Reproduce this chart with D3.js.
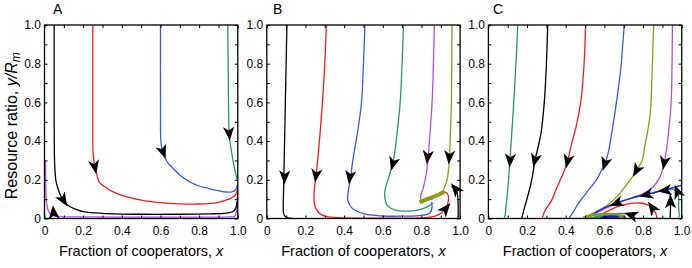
<!DOCTYPE html>
<html>
<head>
<meta charset="utf-8">
<script src="https://cdn.jsdelivr.net/npm/d3@7"></script>
<style>
  body { margin: 0; background: #fff; }
  svg { display: block; }
  text { font-family: Arial, "Liberation Sans", Helvetica, sans-serif; fill: #000; }
</style>
</head>
<body>
<div id="chart"></div>
<script>
// ---- data: trajectories as [x, y/Rm] in flow order ----
const tickValues = [0, 0.2, 0.4, 0.6, 0.8, 1.0];
const tickLabels = ['0', '0.2', '0.4', '0.6', '0.8', '1.0'];

// Panel A
const aBlack = [[0.05,1.0],[0.05,0.6],[0.051,0.35],[0.054,0.25],[0.06,0.19],[0.071,0.15],[0.085,0.115],[0.1,0.09],[0.13,0.062],[0.17,0.045],[0.2,0.036],[0.3,0.027],[0.5,0.022],[0.7,0.022],[0.85,0.024],[0.94,0.028],[0.975,0.036],[0.99,0.055],[0.997,0.09]];
const aRed = [[0.25,1.0],[0.25,0.6],[0.251,0.35],[0.255,0.3],[0.265,0.25],[0.275,0.21],[0.285,0.185],[0.31,0.165],[0.35,0.14],[0.4,0.12],[0.5,0.095],[0.6,0.082],[0.7,0.076],[0.8,0.075],[0.88,0.08],[0.93,0.092],[0.97,0.108],[0.99,0.125],[0.998,0.15]];
const aBlue = [[0.6,1.0],[0.6,0.6],[0.601,0.42],[0.604,0.38],[0.612,0.345],[0.625,0.31],[0.64,0.285],[0.66,0.265],[0.7,0.225],[0.75,0.19],[0.8,0.168],[0.85,0.155],[0.9,0.144],[0.94,0.137],[0.97,0.138],[0.99,0.15],[0.998,0.175]];
const aGreen = [[0.948,1.0],[0.95,0.8],[0.952,0.6],[0.955,0.45],[0.96,0.39],[0.967,0.35],[0.975,0.3],[0.983,0.26],[0.992,0.22],[0.998,0.19]];
const aPurple = [[0.005,0.3],[0.006,0.2],[0.008,0.12],[0.012,0.07],[0.02,0.04],[0.03,0.025],[0.05,0.014],[0.08,0.01],[0.2,0.008],[0.5,0.007],[0.8,0.007],[0.95,0.008],[0.985,0.012],[0.995,0.05],[0.998,0.12],[0.999,0.17]];

// Panel B
const bBlack = [[0.104,1.0],[0.1,0.8],[0.096,0.6],[0.092,0.4],[0.089,0.25],[0.087,0.15],[0.085,0.06],[0.087,0.025],[0.095,0.01],[0.11,0.003],[0.13,0.0]];
const bRed = [[0.308,1.0],[0.3,0.8],[0.288,0.6],[0.272,0.4],[0.258,0.25],[0.248,0.17],[0.244,0.12],[0.246,0.08],[0.255,0.05],[0.275,0.025],[0.31,0.01],[0.37,0.004],[0.5,0.002],[0.7,0.002],[0.82,0.004],[0.87,0.012],[0.905,0.03],[0.93,0.06],[0.94,0.1],[0.935,0.128],[0.92,0.138],[0.9,0.135]];
const bBlue = [[0.508,1.0],[0.5,0.8],[0.49,0.6],[0.47,0.45],[0.445,0.3],[0.432,0.2],[0.42,0.13],[0.42,0.09],[0.44,0.055],[0.5,0.025],[0.6,0.013],[0.7,0.012],[0.8,0.016],[0.845,0.03],[0.855,0.06],[0.85,0.085]];
const bGreen = [[0.707,1.0],[0.7,0.8],[0.69,0.6],[0.675,0.45],[0.655,0.3],[0.63,0.21],[0.612,0.15],[0.612,0.1],[0.625,0.065],[0.66,0.045],[0.72,0.038],[0.78,0.043],[0.83,0.06],[0.86,0.08]];
const bPurple = [[0.867,1.0],[0.862,0.8],[0.855,0.6],[0.845,0.45],[0.835,0.32],[0.825,0.23],[0.81,0.16],[0.795,0.11],[0.8,0.095],[0.83,0.098],[0.86,0.1]];
const bOlive = [[0.958,1.0],[0.957,0.8],[0.955,0.6],[0.95,0.45],[0.945,0.32],[0.94,0.25],[0.93,0.19],[0.915,0.15]];
const bOliveBand = [[0.79,0.083],[0.83,0.1],[0.87,0.115],[0.92,0.14]];
const bBlackEdge = [[0.99,0.0],[0.99,0.06],[0.988,0.11],[0.982,0.145],[0.97,0.16],[0.955,0.165]];

// Panel C
const cTeal = [[0.152,1.0],[0.145,0.85],[0.137,0.7],[0.128,0.55],[0.118,0.4],[0.11,0.28],[0.1,0.15],[0.092,0.07],[0.087,0.02],[0.085,0.0],[0.3,0.0],[0.6,0.0],[0.9,0.0],[0.983,0.0],[0.984,0.06],[0.983,0.12],[0.975,0.14],[0.955,0.15],[0.93,0.148]];
const cBlack = [[0.307,1.0],[0.3,0.8],[0.29,0.612],[0.272,0.44],[0.255,0.36],[0.241,0.3],[0.228,0.22],[0.216,0.164],[0.198,0.095],[0.185,0.05],[0.176,0.015],[0.172,0.0]];
const cRed = [[0.503,1.0],[0.495,0.8],[0.479,0.612],[0.455,0.48],[0.431,0.388],[0.41,0.298],[0.39,0.24],[0.371,0.198],[0.35,0.15],[0.328,0.095],[0.305,0.06],[0.29,0.035],[0.282,0.012],[0.279,0.0]];
const cBlue = [[0.703,1.0],[0.695,0.9],[0.686,0.784],[0.664,0.612],[0.638,0.44],[0.62,0.34],[0.603,0.284],[0.585,0.25],[0.569,0.216],[0.545,0.18],[0.517,0.147],[0.49,0.11],[0.466,0.078],[0.44,0.035],[0.422,0.009],[0.418,0.0]];
const cOlive = [[0.855,1.0],[0.85,0.85],[0.845,0.7],[0.838,0.55],[0.822,0.44],[0.81,0.38],[0.795,0.3],[0.767,0.25],[0.733,0.198],[0.7,0.155],[0.664,0.112],[0.63,0.08],[0.595,0.055],[0.56,0.035],[0.526,0.02],[0.5,0.008],[0.49,0.002]];
const cPurple = [[0.952,1.0],[0.95,0.8],[0.946,0.612],[0.935,0.474],[0.922,0.36],[0.91,0.29],[0.888,0.215],[0.853,0.164],[0.801,0.129],[0.733,0.103],[0.664,0.078],[0.6,0.05],[0.55,0.025],[0.52,0.01]];
const cSeparatrix = [[1.0,0.172],[0.9,0.145],[0.836,0.129],[0.75,0.108],[0.681,0.086],[0.62,0.063],[0.57,0.04],[0.54,0.022],[0.52,0.01]];
const cRed2 = [[0.871,0.0],[0.868,0.02],[0.862,0.034],[0.845,0.058],[0.82,0.072],[0.78,0.08],[0.74,0.078],[0.7,0.07],[0.664,0.06],[0.63,0.045],[0.6,0.03],[0.58,0.018]];
const cBlack2 = [[0.94,0.0],[0.942,0.05],[0.942,0.1],[0.936,0.135],[0.915,0.145],[0.88,0.14],[0.85,0.13]];
const cBlue2 = [[0.76,0.0],[0.75,0.012],[0.72,0.022],[0.68,0.026],[0.63,0.024],[0.58,0.018],[0.55,0.01]];
const cOliveLoop = [[0.49,0.002],[0.52,0.012],[0.56,0.02],[0.62,0.022],[0.67,0.018],[0.7,0.01],[0.705,0.003],[0.68,0.0],[0.6,0.0],[0.52,0.0]];
const cTealLoop = [[0.54,0.003],[0.58,0.012],[0.63,0.014],[0.67,0.01],[0.68,0.004],[0.63,0.001],[0.56,0.001],[0.54,0.003]];
const cCore = [[0.58,0.002],[0.6,0.01],[0.64,0.012],[0.67,0.008],[0.67,0.002],[0.62,0.0]];

const colors = {
  black: '#000000', red: '#ff1a1a', blue: '#3a58f0', teal: '#1f9a70',
  purple: '#b44cf0', olive: '#8c9c14', navy: '#2233cc', core: '#1a1aa8'
};

// arrows: [trajectory, x, y, optional angle in degrees]
const panels = [
  {
    label: 'A', left: 44.5, labelX: 53,
    series: [
      { d: aPurple, c: 'purple' }, { d: aBlack, c: 'black' }, { d: aRed, c: 'red' },
      { d: aBlue, c: 'blue' }, { d: aGreen, c: 'teal' }
    ],
    arrows: [[aBlack, 0.097, 0.096], [aRed, 0.26, 0.268], [aBlue, 0.613, 0.345],
             [aGreen, 0.955, 0.44], [aPurple, 0.047, 0.03, -95]]
  },
  {
    label: 'B', left: 266.8, labelX: 273,
    series: [
      { d: bBlack, c: 'black' }, { d: bRed, c: 'red' }, { d: bBlue, c: 'blue' },
      { d: bGreen, c: 'teal' }, { d: bPurple, c: 'purple' }, { d: bOlive, c: 'olive' },
      { d: bOliveBand, c: 'olive', w: 4 }, { d: bBlackEdge, c: 'black' }
    ],
    arrows: [[bBlack, 0.092, 0.215], [bRed, 0.255, 0.224], [bBlue, 0.43, 0.215],
             [bGreen, 0.653, 0.284], [bPurple, 0.832, 0.319], [bOlive, 0.944, 0.319],
             [bRed, 0.925, 0.05], [bBlackEdge, 0.977, 0.152]]
  },
  {
    label: 'C', left: 488.4, labelX: 493,
    series: [
      { d: cTeal, c: 'teal' }, { d: cBlack, c: 'black' }, { d: cRed, c: 'red' },
      { d: cBlue, c: 'blue' }, { d: cOlive, c: 'olive' }, { d: cPurple, c: 'purple' },
      { d: cRed2, c: 'red' }, { d: cBlue2, c: 'blue' }, { d: cBlack2, c: 'black' },
      { d: cSeparatrix, c: 'navy', w: 1.6 }, { d: cOliveLoop, c: 'olive', w: 3 },
      { d: cTealLoop, c: 'teal', w: 1.5 }, { d: cCore, c: 'core', fill: true }
    ],
    arrows: [[cTeal, 0.112, 0.302], [cBlack, 0.241, 0.302], [cRed, 0.41, 0.298],
             [cBlue, 0.603, 0.284], [cOlive, 0.767, 0.25], [cPurple, 0.91, 0.29],
             [cSeparatrix, 0.819, 0.123], [cSeparatrix, 0.664, 0.08],
             [cBlack2, 0.942, 0.086], [cBlack2, 0.914, 0.145], [cTeal, 0.978, 0.138],
             [cRed2, 0.848, 0.055], [cBlue2, 0.74, 0.018]]
  }
];

// ---- layout ----
const width = 692, height = 268;
const plotW = 193.3, plotTop = 25, plotBottom = 218.5;
const fontTick = 12, fontTitle = 14.5;

const svg = d3.select('#chart').append('svg')
  .attr('width', width).attr('height', height);

const arrowPath = 'M7.5,0 L-6.5,-5.6 L-2.8,0 L-6.5,5.6 Z';
const minor = d3.range(11).map(i => i / 10);

// angle of trajectory near (px, py), in screen space
const tangentAngle = (pts, px, py) => {
  let best = Infinity, ang = 90;
  for (let i = 0; i < pts.length - 1; i++) {
    const [x1, y1] = pts[i], [x2, y2] = pts[i + 1];
    const dx = x2 - x1, dy = y2 - y1;
    const len2 = dx * dx + dy * dy || 1;
    const t = Math.max(0, Math.min(1, ((px - x1) * dx + (py - y1) * dy) / len2));
    const qx = x1 + t * dx, qy = y1 + t * dy;
    const dist = (px - qx) ** 2 + (py - qy) ** 2;
    if (dist < best) { best = dist; ang = Math.atan2(dy, dx) * 180 / Math.PI; }
  }
  return ang;
};

panels.forEach((p, pi) => {
  const x = d3.scaleLinear().domain([0, 1]).range([p.left, p.left + plotW]);
  const y = d3.scaleLinear().domain([0, 1]).range([plotBottom, plotTop]);
  const g = svg.append('g');

  const clipId = 'clip' + pi;
  svg.append('clipPath').attr('id', clipId)
    .append('rect')
    .attr('x', x(0)).attr('y', y(1))
    .attr('width', plotW).attr('height', plotBottom - plotTop);

  const line = d3.line()
    .x(d => x(d[0])).y(d => y(d[1]))
    .curve(d3.curveCatmullRom.alpha(0.5));
  const closed = d3.line()
    .x(d => x(d[0])).y(d => y(d[1]))
    .curve(d3.curveCatmullRomClosed.alpha(0.5));

  const plot = g.append('g').attr('clip-path', `url(#${clipId})`);
  p.series.forEach(s => {
    plot.append('path')
      .attr('d', s.fill ? closed(s.d) : line(s.d))
      .attr('fill', s.fill ? colors[s.c] : 'none')
      .attr('stroke', colors[s.c])
      .attr('stroke-width', s.w || 1.3)
      .attr('stroke-linejoin', 'round');
  });

  // arrowheads
  p.arrows.forEach(a => {
    const pts = a[0].map(d => [x(d[0]), y(d[1])]);
    const px = x(a[1]), py = y(a[2]);
    const ang = a.length > 3 ? a[3] : tangentAngle(pts, px, py);
    g.append('path')
      .attr('d', arrowPath)
      .attr('transform', `translate(${px},${py}) rotate(${ang})`)
      .attr('fill', '#000');
  });

  // axes with inside ticks every 0.1
  const fmt = d => {
    const k = tickValues.findIndex(v => Math.abs(v - d) < 1e-6);
    return k >= 0 ? tickLabels[k] : '';
  };
  const styleAxis = sel => {
    sel.select('.domain').remove();
    sel.selectAll('.tick line').attr('stroke', '#000').attr('stroke-width', 1);
    sel.selectAll('text').attr('font-size', fontTick + 'px')
      .style('font-family', 'Arial, "Liberation Sans", Helvetica, sans-serif');
  };
  g.append('g').attr('transform', `translate(0,${plotBottom})`)
    .call(d3.axisBottom(x).tickValues(minor).tickSize(-3).tickPadding(8).tickFormat(fmt))
    .call(styleAxis);
  g.append('g').attr('transform', `translate(${x(0)},0)`)
    .call(d3.axisLeft(y).tickValues(minor).tickSize(-3).tickPadding(3.5).tickFormat(fmt))
    .call(styleAxis);
  g.append('g').attr('transform', `translate(0,${plotTop})`)
    .call(d3.axisTop(x).tickValues(minor).tickSize(-3).tickFormat(''))
    .call(styleAxis);
  g.append('g').attr('transform', `translate(${x(1)},0)`)
    .call(d3.axisRight(y).tickValues(minor).tickSize(-3).tickFormat(''))
    .call(styleAxis);

  // frame
  g.append('rect')
    .attr('x', x(0)).attr('y', y(1))
    .attr('width', plotW).attr('height', plotBottom - plotTop)
    .attr('fill', 'none').attr('stroke', '#000').attr('stroke-width', 1.3);

  // panel letter
  g.append('text')
    .attr('x', p.labelX).attr('y', 14)
    .attr('font-size', '14px')
    .text(p.label);

  // x title
  const xt = g.append('text')
    .attr('x', (x(0) + x(1)) / 2).attr('y', 256)
    .attr('text-anchor', 'middle')
    .attr('font-size', fontTitle + 'px');
  xt.append('tspan').text('Fraction of cooperators, ');
  xt.append('tspan').attr('font-style', 'italic').text('x');
});

// y title (panel A only)
const yt = svg.append('text')
  .attr('transform', `translate(17,${(plotTop + plotBottom) / 2 + 4}) rotate(-90)`)
  .attr('text-anchor', 'middle')
  .attr('font-size', '16px');
yt.append('tspan').text('Resource ratio, ');
yt.append('tspan').attr('font-style', 'italic').text('y/R');
yt.append('tspan').attr('font-style', 'italic').attr('font-size', '12px').attr('dy', 3).text('m');
</script>
</body>
</html>
